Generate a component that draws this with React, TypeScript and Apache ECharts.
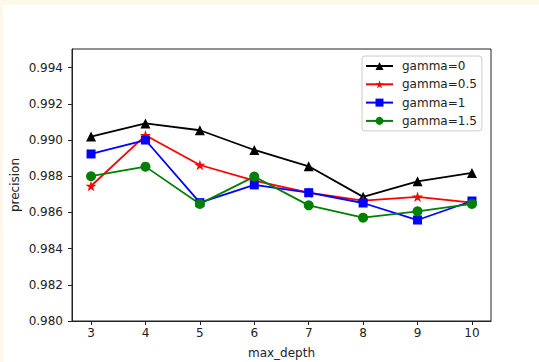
import React, { useEffect, useRef } from "react";
import * as echarts from "echarts";

const maxDepth = [3, 4, 5, 6, 7, 8, 9, 10];
const gamma0 = [0.99019, 0.99092, 0.99054, 0.98945, 0.98855, 0.98686, 0.98772, 0.98818];
const gamma05 = [0.98746, 0.99026, 0.98862, 0.98776, 0.98709, 0.98665, 0.98686, 0.98654];
const gamma1 = [0.98923, 0.99, 0.98654, 0.98752, 0.98709, 0.98652, 0.98558, 0.98663];
const gamma15 = [0.988, 0.98853, 0.98647, 0.98798, 0.98639, 0.98571, 0.98606, 0.98647];
const seriesNames = ["gamma=0", "gamma=0.5", "gamma=1", "gamma=1.5"];
const yTicks = [0.98, 0.982, 0.984, 0.986, 0.988, 0.99, 0.992, 0.994];

const STAR =
  "path://M100 0 L122.45 69.1 L195.11 69.1 L136.33 111.8 L158.78 180.9 L100 138.2 L41.22 180.9 L63.67 111.8 L4.89 69.1 L77.55 69.1 Z";

const FONT = "DejaVu Sans";

export default function App() {
  const ref = useRef<HTMLDivElement>(null);
  useEffect(() => {
    if (!ref.current) return;
    const chart = echarts.init(ref.current, undefined, { renderer: "svg" });
    const mk = (
      name: string,
      vals: number[],
      color: string,
      symbol: string,
      size: number
    ) => ({
      name,
      type: "line",
      data: maxDepth.map((x, i) => [x, vals[i]]),
      symbol,
      symbolSize: size,
      symbolKeepAspect: true,
      showAllSymbol: true,
      lineStyle: { color, width: 1.8 },
      itemStyle: { color, borderWidth: 0 },
      emphasis: { disabled: true },
    });
    chart.setOption({
      animation: false,
      backgroundColor: "#ffffff",
      textStyle: { fontFamily: FONT },
      grid: {
        left: 72,
        top: 49,
        width: 419,
        height: 272,
        show: true,
        borderColor: "#222",
        borderWidth: 1,
        backgroundColor: "#fff",
        containLabel: false,
      },
      graphic: [
        { type: "rect", shape: { x: 0, y: 0, width: 539, height: 5 }, style: { fill: "#fcf8ea" }, silent: true },
        { type: "rect", shape: { x: 0, y: 0, width: 3, height: 362 }, style: { fill: "#fcf8ea" }, silent: true },
        {
          type: "text",
          x: 281.5,
          y: 353,
          style: { text: "max_depth", fontSize: 12, fontFamily: FONT, fill: "#222", textAlign: "center", textVerticalAlign: "middle" },
        },
        {
          type: "text",
          x: 15,
          y: 185,
          rotation: Math.PI / 2,
          style: { text: "precision", fontSize: 12, fontFamily: FONT, fill: "#222", textAlign: "center", textVerticalAlign: "middle" },
        },
      ],
      legend: {
        orient: "vertical",
        left: 362,
        top: 56,
        padding: [4, 5, 4, 3],
        itemWidth: 27,
        itemHeight: 10,
        itemGap: 6.3,
        borderColor: "#ccc",
        borderWidth: 1,
        borderRadius: 3,
        backgroundColor: "rgba(255,255,255,0.8)",
        textStyle: { fontSize: 12, fontFamily: FONT, color: "#222", padding: [0, 0, 0, 4] },
        data: seriesNames,
      },
      xAxis: {
        type: "value",
        min: 2.65,
        max: 10.35,
        splitLine: { show: false },
        axisLine: { show: true, onZero: false, lineStyle: { color: "#222", width: 1 } },
        axisTick: { show: true, length: 4, lineStyle: { color: "#222" }, customValues: maxDepth },
        axisLabel: { customValues: maxDepth, fontSize: 12, fontFamily: FONT, color: "#222", margin: 6 },
      },
      yAxis: {
        type: "value",
        min: 0.98,
        max: 0.99503,
        splitLine: { show: false },
        axisLine: { show: true, onZero: false, lineStyle: { color: "#222", width: 1 } },
        axisTick: { show: true, length: 4, lineStyle: { color: "#222" }, customValues: yTicks },
        axisLabel: {
          customValues: yTicks,
          fontSize: 12,
          fontFamily: FONT,
          color: "#222",
          margin: 9,
          formatter: (v: number) => v.toFixed(3),
        },
      },
      series: [
        mk(seriesNames[0], gamma0, "#000000", "triangle", 10),
        mk(seriesNames[1], gamma05, "#ff0000", STAR, 11),
        mk(seriesNames[2], gamma1, "#0000ff", "rect", 9),
        mk(seriesNames[3], gamma15, "#008000", "circle", 10),
      ],
    });
    return () => chart.dispose();
  }, []);
  return (
    <div style={{ position: "fixed", left: 0, top: 0, width: 539, height: 362 }}>
      <div ref={ref} style={{ width: 539, height: 362 }} />
    </div>
  );
}
